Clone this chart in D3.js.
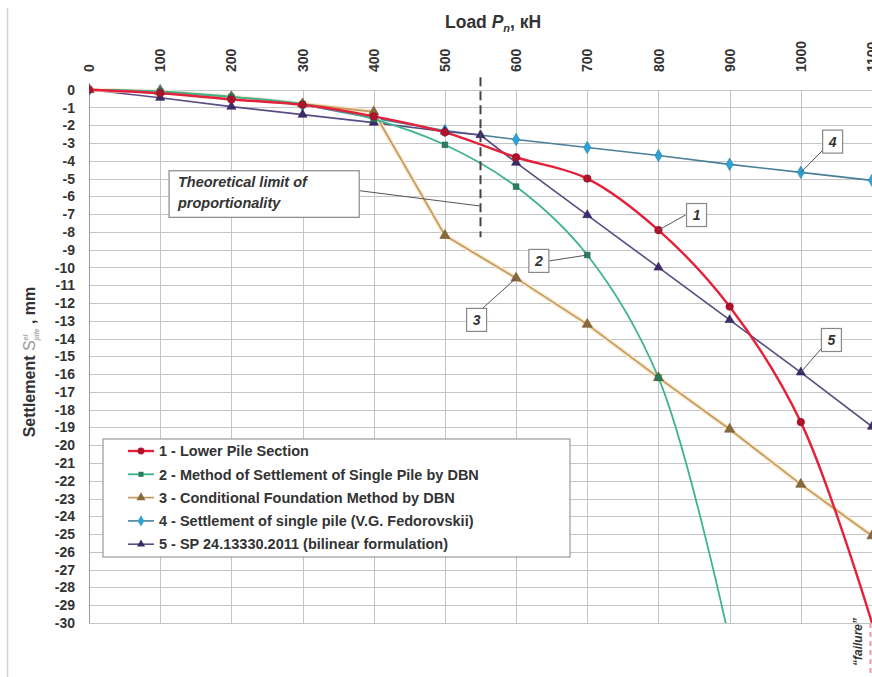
<!DOCTYPE html>
<head>
  <script src="https://d3js.org/d3.v7.min.js"></script>
  <style>
    body { margin: 0; background: #fff; }
    text { font-family: "Liberation Sans", Arial, sans-serif; }
  </style>
</head>
<body>

<svg width="872" height="677"></svg>

<script>
  // loads, kN
  const loads = [0, 100, 200, 300, 400, 500, 600, 700, 800, 900, 1000, 1100];
  const loads2 = [0, 100, 200, 300, 400, 500, 600, 700, 800, 900];
  const loads5 = [0, 100, 200, 300, 400, 500, 550, 600, 700, 800, 900, 1000, 1100];

  // settlement, mm
  const lowerPile = [0, -0.2, -0.55, -0.85, -1.5, -2.4, -3.8, -5.0, -7.9, -12.2, -18.7, -30.0];
  const singlePileDBN = [0, -0.1, -0.4, -0.8, -1.65, -3.1, -5.45, -9.3, -16.2, -31.0];
  const condFoundation = [0, -0.1, -0.4, -0.8, -1.25, -8.2, -10.6, -13.2, -16.2, -19.1, -22.2, -25.1];
  const fedorovskii = [0, -0.05, -0.45, -0.85, -1.6, -2.3, -2.8, -3.25, -3.7, -4.2, -4.65, -5.1];
  const bilinear = [0, -0.45, -0.95, -1.4, -1.85, -2.35, -2.55, -4.1, -7.05, -10.0, -12.95, -15.9, -18.95];

  const xTicks = [0, 100, 200, 300, 400, 500, 600, 700, 800, 900, 1000, 1100];
  const yTicks = d3.range(0, -31, -1);

  const seriesNames = [
    "1 - Lower Pile Section",
    "2 - Method of Settlement of Single Pile by DBN",
    "3 - Conditional Foundation Method by DBN",
    "4 - Settlement of single pile (V.G. Fedorovskii)",
    "5 - SP 24.13330.2011 (bilinear formulation)"
  ];

  const series = [
    { name: seriesNames[0], x: loads, y: lowerPile, line: "#e4203a", mark: "#b0122c", sym: d3.symbolCircle, size: 45, w: 2.4, smooth: true },
    { name: seriesNames[1], x: loads2, y: singlePileDBN, line: "#3db38e", mark: "#2a7d5e", sym: d3.symbolSquare, size: 32, w: 1.8, smooth: true },
    { name: seriesNames[2], x: loads, y: condFoundation, line: "#c49a5c", mark: "#8a6a3c", sym: d3.symbolTriangle, size: 45, w: 1.7, halo: "#f9ead0" },
    { name: seriesNames[3], x: loads, y: fedorovskii, line: "#4a7f99", mark: "#2ba3d3", sym: d3.symbolDiamond, size: 45, w: 1.6 },
    { name: seriesNames[4], x: loads5, y: bilinear, line: "#5a4b82", mark: "#3b2b6b", sym: d3.symbolTriangle, size: 36, w: 1.6 }
  ];

  const svg = d3.select("svg");

  const xScale = d3.scaleLinear().domain([0, 1100]).range([89, 872]);
  const yScale = d3.scaleLinear().domain([0, -30]).range([89.7, 623]);

  // outer frame line on the left
  svg.append("line")
    .attr("x1", 7.5).attr("x2", 7.5).attr("y1", 8).attr("y2", 677)
    .attr("stroke", "#d4d4d4").attr("stroke-width", 1.5);

  // grid
  svg.append("g")
    .selectAll("line")
    .data(yTicks)
    .enter().append("line")
    .attr("x1", xScale(0)).attr("x2", xScale(1100))
    .attr("y1", d => Math.round(yScale(d)) + 0.5)
    .attr("y2", d => Math.round(yScale(d)) + 0.5)
    .attr("stroke", "#c4c4c4");

  svg.append("g")
    .selectAll("line")
    .data(xTicks)
    .enter().append("line")
    .attr("x1", d => Math.round(xScale(d)) + 0.5)
    .attr("x2", d => Math.round(xScale(d)) + 0.5)
    .attr("y1", yScale(0)).attr("y2", yScale(-30))
    .attr("stroke", d => d === 0 ? "#9a9a9a" : "#c4c4c4");

  // top axis labels (rotated)
  svg.append("g")
    .selectAll("text")
    .data(xTicks)
    .enter().append("text")
    .attr("transform", d => `translate(${xScale(d)},72) rotate(-90)`)
    .attr("dy", "0.36em")
    .attr("font-size", 14)
    .attr("font-weight", "bold")
    .attr("fill", "#333")
    .text(d => d);

  // left axis labels
  svg.append("g")
    .selectAll("text")
    .data(yTicks)
    .enter().append("text")
    .attr("x", 75)
    .attr("y", d => yScale(d))
    .attr("dy", "0.36em")
    .attr("text-anchor", "end")
    .attr("font-size", 14)
    .attr("font-weight", "bold")
    .attr("fill", "#333")
    .text(d => d);

  // axis titles
  const xTitle = svg.append("text")
    .attr("x", 445).attr("y", 28)
    .attr("font-size", 17.5).attr("font-weight", "bold").attr("fill", "#333");
  xTitle.append("tspan").text("Load ");
  xTitle.append("tspan").attr("font-style", "italic").text("P");
  xTitle.append("tspan").attr("font-style", "italic").attr("font-size", 11).attr("dy", 4).text("n");
  xTitle.append("tspan").attr("dy", -4).text(", кН");

  const yTitle = svg.append("text")
    .attr("transform", "translate(35,362) rotate(-90)")
    .attr("text-anchor", "middle")
    .attr("font-size", 16).attr("font-weight", "bold").attr("fill", "#333");
  yTitle.append("tspan").text("Settlement ");
  yTitle.append("tspan").attr("fill", "#999").attr("font-weight", "normal").text("S");
  yTitle.append("tspan").attr("fill", "#aaa").attr("font-size", 7).attr("font-style", "italic").attr("dy", -7).text("el");
  yTitle.append("tspan").attr("fill", "#aaa").attr("font-size", 7).attr("font-style", "italic").attr("dx", -6).attr("dy", 11).text("pile");
  yTitle.append("tspan").attr("dy", -4).text(" , mm");

  // clip to plot area
  svg.append("clipPath").attr("id", "plot")
    .append("rect")
    .attr("x", xScale(0)).attr("y", yScale(0) - 10)
    .attr("width", xScale(1100) - xScale(0) + 10)
    .attr("height", yScale(-30) - yScale(0) + 10);

  const plot = svg.append("g").attr("clip-path", "url(#plot)");

  const straight = d3.line()
    .x(d => xScale(d[0]))
    .y(d => yScale(d[1]));
  const smooth = d3.line()
    .x(d => xScale(d[0]))
    .y(d => yScale(d[1]))
    .curve(d3.curveCatmullRom.alpha(0.5));

  // draw lines back to front: 4, 5, 3, 2, 1
  const order = [3, 4, 2, 1, 0];
  order.forEach(i => {
    const s = series[i];
    const pts = s.x.map((v, j) => [v, s.y[j]]);
    const gen = s.smooth ? smooth : straight;
    if (s.halo) {
      plot.append("path")
        .attr("d", gen(pts))
        .attr("fill", "none")
        .attr("stroke", s.halo)
        .attr("stroke-width", 4.5);
    }
    plot.append("path")
      .attr("d", gen(pts))
      .attr("fill", "none")
      .attr("stroke", s.line)
      .attr("stroke-width", s.w);
  });

  order.forEach(i => {
    const s = series[i];
    const pts = s.x.map((v, j) => [v, s.y[j]]).filter(p => p[1] > -30);
    plot.append("g")
      .selectAll("path")
      .data(pts)
      .enter().append("path")
      .attr("transform", d => `translate(${xScale(d[0])},${yScale(d[1])})`)
      .attr("d", d3.symbol().type(s.sym).size(s.size))
      .attr("fill", s.mark)
      .attr("stroke", d3.color(s.mark).darker(0.6))
      .attr("stroke-width", 0.6);
  });

  // theoretical limit of proportionality
  svg.append("line")
    .attr("x1", xScale(550)).attr("x2", xScale(550))
    .attr("y1", yScale(0.7)).attr("y2", yScale(-8.3))
    .attr("stroke", "#444")
    .attr("stroke-width", 2)
    .attr("stroke-dasharray", "9,5");

  svg.append("line")
    .attr("x1", xScale(379.6)).attr("y1", yScale(-5.68))
    .attr("x2", xScale(549)).attr("y2", yScale(-6.54))
    .attr("stroke", "#555").attr("stroke-width", 1);

  svg.append("rect")
    .attr("x", xScale(112.5)).attr("y", yScale(-4.56))
    .attr("width", xScale(379.6) - xScale(112.5))
    .attr("height", yScale(-7.18) - yScale(-4.56))
    .attr("fill", "#fff").attr("stroke", "#888").attr("stroke-width", 1.2);

  const tl = svg.append("text")
    .attr("font-size", 14.5).attr("font-weight", "bold").attr("font-style", "italic").attr("fill", "#333");
  tl.append("tspan").attr("x", xScale(125)).attr("y", yScale(-5.46)).text("Theoretical limit of");
  tl.append("tspan").attr("x", xScale(125)).attr("y", yScale(-6.66)).text("proportionality");

  // numbered callouts
  const callouts = [
    { label: "1", cx: 853.5, cy: -7.05, fx: 838, fy: -7.05, tx: 800, ty: -7.9 },
    { label: "2", cx: 632, cy: -9.63, fx: 647, fy: -9.63, tx: 700, ty: -9.3 },
    { label: "3", cx: 544.5, cy: -12.95, fx: 551.5, fy: -12.35, tx: 600, ty: -10.6 },
    { label: "4", cx: 1044.7, cy: -2.92, fx: 1031, fy: -3.4, tx: 1000, ty: -4.65 },
    { label: "5", cx: 1043, cy: -14.08, fx: 1029, fy: -14.55, tx: 1000, ty: -15.9 }
  ];

  const co = svg.append("g").selectAll("g").data(callouts).enter().append("g");
  co.append("line")
    .attr("x1", d => xScale(d.fx)).attr("y1", d => yScale(d.fy))
    .attr("x2", d => xScale(d.tx)).attr("y2", d => yScale(d.ty))
    .attr("stroke", "#555").attr("stroke-width", 1);
  co.append("rect")
    .attr("x", d => xScale(d.cx) - 10).attr("y", d => yScale(d.cy) - 11.5)
    .attr("width", 20).attr("height", 23)
    .attr("fill", "#fff").attr("stroke", "#888").attr("stroke-width", 1.2);
  co.append("text")
    .attr("x", d => xScale(d.cx)).attr("y", d => yScale(d.cy))
    .attr("dy", "0.36em")
    .attr("text-anchor", "middle")
    .attr("font-size", 14).attr("font-weight", "bold").attr("font-style", "italic").attr("fill", "#333")
    .text(d => d.label);

  // failure marker
  svg.append("line")
    .attr("x1", xScale(1100) - 1.5).attr("x2", xScale(1100) - 1.5)
    .attr("y1", yScale(-30)).attr("y2", 677)
    .attr("stroke", "#e79aa6").attr("stroke-width", 2)
    .attr("stroke-dasharray", "5,4");

  svg.append("text")
    .attr("transform", `translate(${xScale(1100) - 14},618) rotate(-90)`)
    .attr("dy", "0.36em")
    .attr("text-anchor", "end")
    .attr("font-size", 12).attr("font-weight", "bold").attr("font-style", "italic").attr("fill", "#333")
    .text("\u201Cfailure\u201D");

  // legend
  const lg = svg.append("g").attr("transform", "translate(103,439)");
  lg.append("rect")
    .attr("width", 467).attr("height", 118)
    .attr("fill", "#fff").attr("stroke", "#999").attr("stroke-width", 1.2);

  const item = lg.selectAll(".legend")
    .data(series)
    .enter().append("g")
    .attr("class", "legend")
    .attr("transform", (d, i) => `translate(0,${12 + i * 23.3})`);

  item.append("line")
    .attr("x1", 25).attr("x2", 51)
    .attr("stroke", d => d.line).attr("stroke-width", d => d.w);

  item.append("path")
    .attr("transform", "translate(38,0)")
    .attr("d", d => d3.symbol().type(d.sym).size(d.size * 0.8)())
    .attr("fill", d => d.mark);

  item.append("text")
    .attr("x", 56)
    .attr("dy", "0.36em")
    .attr("font-size", 14.5)
    .attr("font-weight", "bold")
    .attr("fill", "#333")
    .text(d => d.name);
</script>

</body>
</html>
